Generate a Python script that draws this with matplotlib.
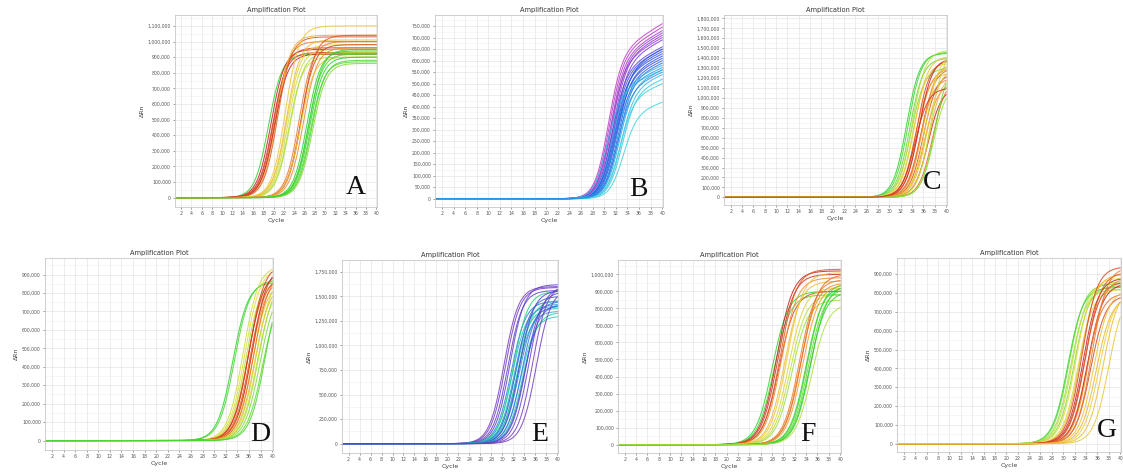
import numpy as np
import matplotlib
matplotlib.use("Agg")
import matplotlib.pyplot as plt
from matplotlib.colors import LinearSegmentedColormap
from matplotlib.ticker import MultipleLocator, FuncFormatter

# ---- data: per curve Ct (mid cycle), plateau (dRn), well shade ----
cycles = np.arange(1, 41)

A_ct = [19.0, 19.5, 19.8, 20.0, 20.3, 20.6, 20.2, 20.8,
        22.3, 22.6, 22.8, 23.0, 22.5, 23.2,
        25.0, 25.3, 25.5, 25.8, 25.2,
        26.5, 26.8, 27.0, 27.2, 27.4, 27.6, 26.9]
A_top = [920e3, 950e3, 930e3, 960e3, 1000e3, 1040e3, 920e3, 1030e3,
         1100e3, 980e3, 950e3, 900e3, 1010e3, 930e3,
         1000e3, 980e3, 1040e3, 960e3, 900e3,
         940e3, 920e3, 900e3, 870e3, 880e3, 860e3, 950e3]
A_shade = [0.0, 1.0, 0.95, 0.9, 0.75, 0.6, 1.0, 0.85,
           0.5, 0.45, 0.35, 0.3, 0.55, 0.25,
           0.75, 0.9, 0.85, 0.7, 0.5,
           0.0, 0.05, 0.0, 0.1, 0.05, 0.15, 0.02]

B_ct = [30.6, 30.8, 31.0, 31.2, 31.0, 31.4, 31.6,
        31.3, 31.5, 31.8, 31.6, 32.0, 32.2, 31.9, 32.0, 32.4,
        30.4, 31.2, 32.5, 32.8, 33.0, 32.6, 33.2, 31.8, 32.2]
B_top = [760e3, 745e3, 730e3, 720e3, 700e3, 710e3, 690e3,
         660e3, 650e3, 640e3, 630e3, 620e3, 600e3, 610e3, 650e3, 590e3,
         560e3, 580e3, 560e3, 540e3, 520e3, 500e3, 420e3, 570e3, 550e3]
B_shade = [1.0, 0.95, 0.9, 0.85, 0.9, 0.8, 0.75,
           0.65, 0.6, 0.55, 0.5, 0.5, 0.45, 0.55, 0.45, 0.4,
           0.1, 0.15, 0.2, 0.1, 0.05, 0.0, 0.0, 0.25, 0.3]

C_ct = [33.0, 33.3, 33.6, 33.8, 34.0, 34.2, 34.4, 34.6, 34.8, 35.0, 35.2, 35.4, 35.6,
        35.8, 36.0, 36.2, 36.4, 36.6, 36.8, 37.0, 37.3, 37.6, 38.0, 37.8, 34.5]
C_top = [1450e3, 1460e3, 1400e3, 1300e3, 1480e3, 1350e3, 1420e3, 1250e3, 1380e3,
         1300e3, 1400e3, 1200e3, 1300e3, 1350e3, 1250e3, 1150e3, 1450e3, 1300e3,
         1100e3, 1250e3, 1500e3, 1200e3, 1350e3, 1150e3, 1100e3]
C_shade = [0.0, 0.05, 0.1, 0.15, 0.3, 0.45, 0.5, 0.6, 0.9, 0.7, 1.0, 0.75, 0.8,
           0.65, 0.9, 0.7, 0.4, 0.55, 1.0, 0.6, 0.3, 0.8, 0.1, 0.2, 0.95]

D_ct = [33.2, 33.5, 35.0, 35.3, 35.5, 35.7, 35.9, 36.0, 36.2, 36.3,
        36.5, 36.6, 36.8, 37.0, 37.2, 37.4, 37.6, 37.9, 38.3, 38.8]
D_top = [860e3, 870e3, 950e3, 940e3, 900e3, 880e3, 920e3, 960e3, 900e3, 880e3,
         950e3, 870e3, 920e3, 860e3, 900e3, 850e3, 880e3, 840e3, 800e3, 900e3]
D_shade = [0.0, 0.05, 0.35, 0.4, 0.25, 0.6, 1.0, 0.9, 0.85, 0.7,
           0.95, 0.5, 0.8, 0.6, 0.3, 0.45, 0.2, 0.15, 0.1, 0.05]

E_ct = [30.3, 30.6, 31.0, 31.4, 31.6, 31.8, 32.0, 32.2, 32.3, 32.5, 32.6,
        32.8, 33.0, 33.1, 33.3, 33.5, 33.7, 34.0, 34.3, 34.8, 35.5, 36.2]
E_top = [1600e3, 1590e3, 1560e3, 1620e3, 1450e3, 1400e3, 1550e3, 1420e3, 1380e3,
         1500e3, 1350e3, 1460e3, 1400e3, 1560e3, 1300e3, 1450e3, 1340e3, 1420e3,
         1550e3, 1600e3, 1620e3, 1580e3]
E_shade = [1.0, 0.95, 0.9, 0.85, 0.5, 0.3, 0.0, 0.4, 0.2, 0.6, 0.35,
           0.1, 0.45, 0.75, 0.25, 0.55, 0.15, 0.65, 0.8, 0.9, 1.0, 0.95]

F_ct = [28.0, 28.3, 28.8, 29.0, 29.2, 29.4, 29.6, 30.2, 30.6, 30.9, 31.2,
        31.5, 32.8, 33.0, 33.2, 33.4, 34.0, 34.2, 34.4, 34.6, 34.8, 35.0]
F_top = [900e3, 880e3, 1020e3, 1000e3, 900e3, 1030e3, 980e3, 960e3, 1010e3, 920e3,
         880e3, 850e3, 970e3, 950e3, 1000e3, 940e3, 930e3, 950e3, 920e3, 900e3,
         940e3, 830e3]
F_shade = [0.0, 0.05, 1.0, 0.95, 0.9, 0.85, 0.7, 0.55, 0.5, 0.45, 0.3,
           0.2, 0.75, 0.7, 0.8, 0.65, 0.0, 0.05, 0.1, 0.0, 0.02, 0.25]

G_ct = [30.8, 31.0, 31.3, 31.6, 31.9, 32.2, 32.6, 33.0, 33.3, 33.5, 33.7,
        33.9, 34.1, 34.3, 34.5, 34.8, 35.0, 35.4, 35.8, 36.3, 37.0, 38.0]
G_top = [830e3, 850e3, 820e3, 860e3, 840e3, 880e3, 820e3, 900e3, 940e3, 880e3,
         860e3, 910e3, 800e3, 850e3, 880e3, 790e3, 940e3, 820e3, 780e3, 800e3,
         830e3, 820e3]
G_shade = [0.0, 0.1, 0.2, 0.3, 0.15, 0.4, 0.35, 0.6, 0.9, 1.0, 0.95,
           0.85, 0.8, 1.0, 0.7, 0.9, 0.75, 0.5, 0.6, 0.45, 0.55, 0.5]

# ---- styling ----
gyr = LinearSegmentedColormap.from_list(
    "gyr", ["#2ed12e", "#9be03a", "#e2dc3c", "#f2b030", "#e66a24", "#c82222"])
cbm = LinearSegmentedColormap.from_list(
    "cbm", ["#3fd2e2", "#2a9be6", "#2a52e2", "#7a3fd6", "#c23cc4"])
gcb = LinearSegmentedColormap.from_list(
    "gcb", ["#22d47a", "#2ec6c8", "#2f7fe0", "#4848d0", "#7a3cc0"])

W, H = 1123, 473

panels = [
    # letter, ct, top, shade, cmap, slope, drift, ymax, ystep, box(l, r, t, b), letter pos
    ("A", A_ct, A_top, A_shade, gyr, 0.75, 0.0, 1.17e6, 100e3, -60e3, (175, 377, 15, 207), (356, 200)),
    ("B", B_ct, B_top, B_shade, cbm, 0.85, 0.02, 0.798e6, 50e3, -36e3, (435, 663, 15, 207), (638, 202)),
    ("C", C_ct, C_top, C_shade, gyr, 0.85, 0.0, 1.834e6, 100e3, -77e3, (724, 947, 15, 205), (932, 195)),
    ("D", D_ct, D_top, D_shade, gyr, 0.75, 0.0, 0.99e6, 100e3, -51e3, (45, 273, 258, 450), (260, 447)),
    ("E", E_ct, E_top, E_shade, gcb, 0.75, 0.0, 1.87e6, 250e3, -95e3, (342, 558, 260, 453), (540, 447)),
    ("F", F_ct, F_top, F_shade, gyr, 0.7, 0.0, 1.084e6, 100e3, -49e3, (618, 841, 260, 453), (808, 447)),
    ("G", G_ct, G_top, G_shade, gyr, 0.75, 0.0, 0.986e6, 100e3, -44e3, (897, 1121, 258, 452), (1107, 443)),
]

fig = plt.figure(figsize=(W / 100, H / 100), dpi=100)
fig.patch.set_facecolor("white")

fmt = FuncFormatter(lambda v, p: f"{int(round(v)):,}")

for letter, ct, top, shade, cmap, k, drift, ymax, ystep, ymin, box, lpos in panels:
    l, r, t, b = box
    ax = fig.add_axes([l / W, (H - b) / H, (r - l) / W, (b - t) / H])
    x = np.linspace(1, 40, 300)
    for c, p, s in zip(ct, top, shade):
        y = p * (1 + drift * (x - 40)) / (1 + np.exp(-k * (x - c)))
        ax.plot(x, y, color=cmap(s), lw=0.75, alpha=0.85)

    ax.set_xlim(0.8, 40.15)
    ax.set_ylim(ymin, ymax)
    ax.xaxis.set_major_locator(MultipleLocator(2))
    ax.yaxis.set_major_locator(MultipleLocator(ystep))
    ax.yaxis.set_minor_locator(MultipleLocator(ystep / 2))
    ax.yaxis.set_major_formatter(fmt)
    ax.set_xticks(np.arange(2, 41, 2))
    ax.grid(True, which="major", color="#e4e4e4", lw=0.5)
    ax.grid(True, which="minor", axis="y", color="#f0f0f0", lw=0.4)
    ax.set_axisbelow(True)
    ax.tick_params(labelsize=3.3, length=1.5, width=0.4, colors="#555555", pad=1.5)
    ax.tick_params(which="minor", length=0)
    for sp in ax.spines.values():
        sp.set_color("#c8c8c8")
        sp.set_linewidth(0.6)
    ax.set_title("Amplification Plot", fontsize=4.8, color="#333333", pad=2)
    ax.set_xlabel("Cycle", fontsize=4.5, color="#444444", labelpad=1.5)
    ax.set_ylabel("\u0394Rn", fontsize=4.5, color="#444444", labelpad=2)

    fig.text(lpos[0] / W, (H - lpos[1]) / H, letter, family="Liberation Serif",
             fontsize=20, ha="center", va="bottom", color="#111111")

fig.savefig("out.png", dpi=100, facecolor="white")
